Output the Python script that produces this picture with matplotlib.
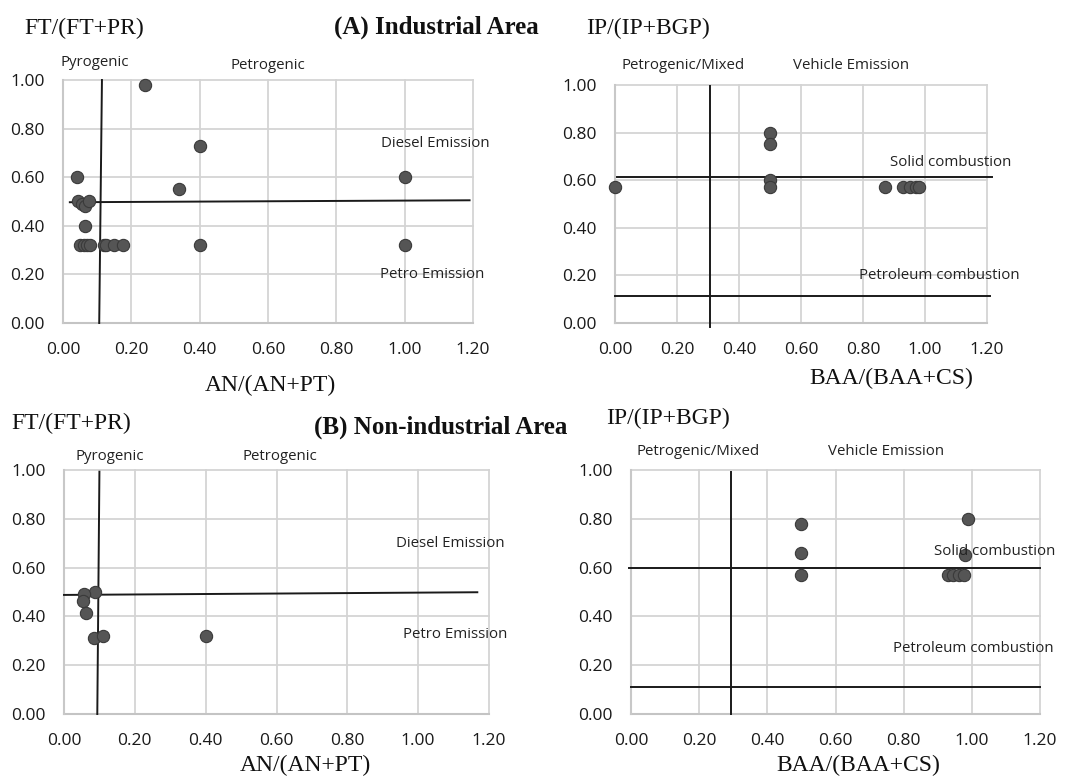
import matplotlib
matplotlib.use("Agg")
import matplotlib.pyplot as plt
import numpy as np

# ---------------- data ----------------
# Panel A-left: Industrial, AN/(AN+PT) vs FT/(FT+PR)
a1_x = [0.24, 0.40, 1.00, 1.00, 0.40, 0.34, 0.04, 0.045, 0.055, 0.065, 0.075,
        0.063, 0.05, 0.06, 0.07, 0.08, 0.12, 0.125, 0.148, 0.177]
a1_y = [0.98, 0.73, 0.60, 0.32, 0.32, 0.55, 0.60, 0.50, 0.49, 0.48, 0.50,
        0.40, 0.32, 0.32, 0.32, 0.32, 0.32, 0.32, 0.32, 0.32]
# Panel A-right: Industrial, BAA/(BAA+CS) vs IP/(IP+BGP)
a2_x = [0.00, 0.50, 0.50, 0.50, 0.50, 0.87, 0.93, 0.95, 0.97, 0.98]
a2_y = [0.57, 0.80, 0.75, 0.60, 0.57, 0.57, 0.57, 0.57, 0.57, 0.57]
# Panel B-left: Non-industrial
b1_x = [0.40, 0.086, 0.109, 0.087, 0.056, 0.055, 0.062]
b1_y = [0.32, 0.31, 0.32, 0.50, 0.49, 0.465, 0.415]
# Panel B-right: Non-industrial
b2_x = [0.50, 0.50, 0.50, 0.99, 0.98, 0.93, 0.946, 0.961, 0.976]
b2_y = [0.78, 0.66, 0.57, 0.80, 0.65, 0.57, 0.57, 0.57, 0.57]

x_ticks = [0.0, 0.2, 0.4, 0.6, 0.8, 1.0, 1.2]
y_ticks = [0.0, 0.2, 0.4, 0.6, 0.8, 1.0]

# threshold lines: (x0, x1, y0, y1)
a1_lines = [(0.02, 1.19, 0.497, 0.505), (0.114, 0.106, 1.0, 0.0)]
a2_lines = [(0.005, 1.215, 0.612, 0.612), (0.0, 1.21, 0.112, 0.112), (0.305, 0.305, 0.995, -0.017)]
b1_lines = [(0.0, 1.167, 0.488, 0.499), (0.10, 0.094, 0.993, 0.0)]
b2_lines = [(-0.005, 1.2, 0.597, 0.597), (0.0, 1.2, 0.109, 0.109), (0.293, 0.293, 0.99, 0.0)]

a1_labels = [("Pyrogenic", 0.094, 1.07), ("Petrogenic", 0.60, 1.06),
             ("Diesel Emission", 1.09, 0.74), ("Petro Emission", 1.08, 0.20)]
a2_labels = [("Petrogenic/Mixed", 0.22, 1.08), ("Vehicle Emission", 0.76, 1.08),
             ("Solid combustion", 1.084, 0.673), ("Petroleum combustion", 1.047, 0.20)]
b1_labels = [("Pyrogenic", 0.128, 1.055), ("Petrogenic", 0.61, 1.055),
             ("Diesel Emission", 1.09, 0.70), ("Petro Emission", 1.104, 0.324)]
b2_labels = [("Petrogenic/Mixed", 0.196, 1.075), ("Vehicle Emission", 0.749, 1.075),
             ("Solid combustion", 1.067, 0.668), ("Petroleum combustion", 1.005, 0.27)]

# ---------------- figure ----------------
W, H = 1078, 778
fig = plt.figure(figsize=(W / 100, H / 100), dpi=100)
fig.patch.set_facecolor("white")

SANS = "Open Sans"
SERIF = "Liberation Serif"


def px_axes(l, t, r, b):
    return fig.add_axes([l / W, 1 - b / H, (r - l) / W, (b - t) / H])


def draw_panel(ax, xs, ys, lines, labels):
    ax.set_xlim(0, 1.2)
    ax.set_ylim(0, 1.0)
    for s in ax.spines.values():
        s.set_visible(False)
    for xv in x_ticks:
        ax.plot([xv, xv], [0, 1], color="#d4d4d4", lw=1.3, zorder=1, clip_on=False)
    for yv in y_ticks:
        ax.plot([0, 1.2], [yv, yv], color="#d4d4d4", lw=1.3, zorder=1, clip_on=False)
    ax.plot([0, 1.2], [0, 0], color="#c4c4c4", lw=1.5, zorder=1, clip_on=False)
    ax.plot([0, 0], [0, 1], color="#c8c8c8", lw=1.5, zorder=1, clip_on=False)
    ax.set_xticks(x_ticks)
    ax.set_yticks(y_ticks)
    ax.set_xticklabels([f"{v:.2f}" for v in x_ticks], fontfamily=SANS, fontsize=12.5)
    ax.set_yticklabels([f"{v:.2f}" for v in y_ticks], fontfamily=SANS, fontsize=12.5)
    ax.tick_params(axis="x", length=0, pad=14, colors="#1a1a1a")
    ax.tick_params(axis="y", length=0, pad=13, colors="#1a1a1a")
    for (x0, x1, y0, y1) in lines:
        ax.plot([x0, x1], [y0, y1], color="#1a1a1a", lw=1.4, zorder=2, clip_on=False)
    ax.scatter(xs, ys, s=78, facecolor="#555555", edgecolor="#3a3a3a",
               linewidth=0.8, zorder=3, clip_on=False)
    for (txt, x, y) in labels:
        ax.text(x, y, txt, fontfamily=SANS, fontsize=10.8, color="#222222",
                ha="center", va="center", zorder=4, clip_on=False)


ax1 = px_axes(63, 80, 473, 323)
ax2 = px_axes(615, 85, 987, 323)
ax3 = px_axes(64, 470, 489, 714)
ax4 = px_axes(631, 470, 1040, 714)

draw_panel(ax1, a1_x, a1_y, a1_lines, a1_labels)
draw_panel(ax2, a2_x, a2_y, a2_lines, a2_labels)
draw_panel(ax3, b1_x, b1_y, b1_lines, b1_labels)
draw_panel(ax4, b2_x, b2_y, b2_lines, b2_labels)


def ftext(x, y, s, bold=False, size=17):
    fig.text(x / W, 1 - y / H, s, fontfamily=SERIF, fontsize=size,
             fontweight="bold" if bold else "normal", ha="center", va="center",
             color="#111111")


ftext(436, 27, "(A) Industrial Area", bold=True, size=18)
ftext(84, 28, "FT/(FT+PR)")
ftext(648, 28, "IP/(IP+BGP)")
ftext(270, 385, "AN/(AN+PT)")
ftext(891, 378, "BAA/(BAA+CS)")

ftext(441, 427, "(B) Non-industrial Area", bold=True, size=18)
ftext(71, 423, "FT/(FT+PR)")
ftext(668, 418, "IP/(IP+BGP)")
ftext(305, 765, "AN/(AN+PT)")
ftext(858, 765, "BAA/(BAA+CS)")

fig.savefig("out.png", dpi=100, facecolor="white")
